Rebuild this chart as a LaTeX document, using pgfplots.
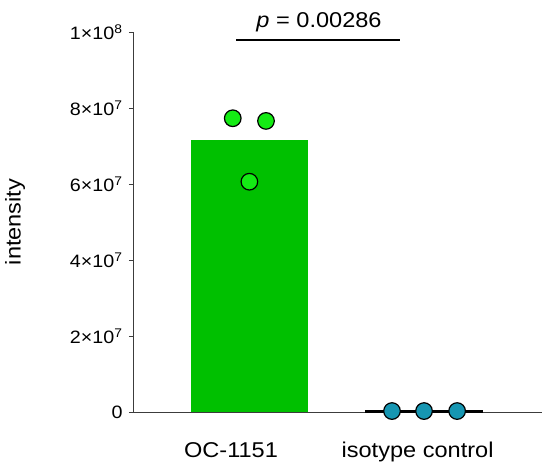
\documentclass[border=0pt]{standalone}
\usepackage{pgfplots}
\pgfplotsset{compat=1.18}
\usepackage{fontspec}
\setmainfont[FakeStretch=1.1]{Liberation Sans}
\definecolor{bargreen}{RGB}{0,192,0}
\definecolor{ptgreen}{RGB}{20,235,20}
\definecolor{ptteal}{RGB}{22,150,178}
\definecolor{axgray}{RGB}{60,60,60}
\begin{document}
\begin{tikzpicture}
\begin{axis}[
  scale only axis,
  width=409bp, height=380bp,
  xmin=-0.663, xmax=1.674,
  ymin=0, ymax=1e8,
  scaled y ticks=false,
  axis lines*=left,
  axis line style={axgray, line width=0.9bp},
  clip=false,
  xtick={-0.103,0.963},
  xticklabels={OC-1151, isotype control},
  xtick style={draw=none},
  xticklabel style={anchor=base, yshift=-41bp, font=\fontsize{21.5}{23}\selectfont},
  ytick={0,2e7,4e7,6e7,8e7,1e8},
  yticklabels={0, 2×10\textsuperscript{7}, 4×10\textsuperscript{7}, 6×10\textsuperscript{7}, 8×10\textsuperscript{7}, 1×10\textsuperscript{8}},
  yticklabel style={font=\fontsize{18}{20}\selectfont, xshift=-3bp},
  tick align=outside,
  major tick length=4bp,
  ytick style={axgray, line width=0.9bp},
  ylabel={intensity},
  ylabel style={at={(axis description cs:-0.288,0.5)}, anchor=center, font=\fontsize{21.5}{23}\selectfont},
]
\addplot[ybar, bar width=117bp, bar shift=0pt, fill=bargreen, draw=none] coordinates {(0,71.5e6)};
\addplot[ybar, bar width=115bp, bar shift=0pt, fill=black, draw=black, line width=2.5bp] coordinates {(1,0.25e6)};
\addplot[only marks, mark=*, mark size=8.3bp, mark options={fill=ptgreen, draw=black, line width=1.2bp}] coordinates {(-0.093,77.3e6) (0.097,76.6e6) (0.002,60.6e6)};
\addplot[only marks, mark=*, mark size=8.3bp, mark options={fill=ptteal, draw=black, line width=1.2bp}] coordinates {(0.817,0.25e6) (1.0,0.25e6) (1.189,0.25e6)};
\draw[black, line width=2.4bp] (axis cs:-0.074,97.9e6) -- (axis cs:0.863,97.9e6);
\node[anchor=base, font=\fontsize{21.5}{23}\selectfont] at (axis cs:0.40,101.3e6) {\textit{p} = 0.00286};
\coordinate (bl) at (rel axis cs:0,0);
\coordinate (tr) at (rel axis cs:1,1);
\end{axis}
\pgfresetboundingbox
\path ([shift={(-133bp,-60bp)}]bl) rectangle ([shift={(12bp,32bp)}]tr);
\end{tikzpicture}
\end{document}
